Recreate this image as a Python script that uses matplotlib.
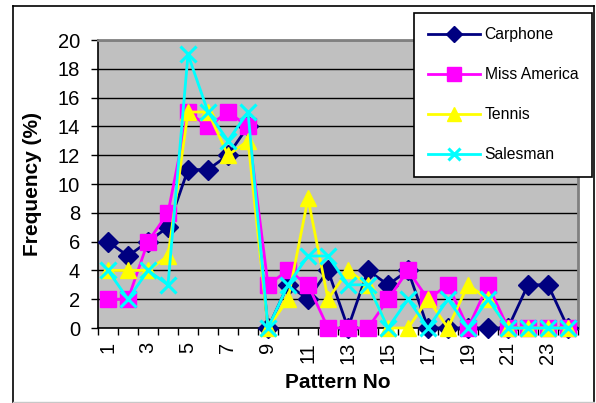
import matplotlib
matplotlib.use("Agg")
import matplotlib.pyplot as plt
from matplotlib.lines import Line2D

plt.rcParams['font.family'] = ['Liberation Sans', 'DejaVu Sans']

patterns = list(range(1, 25))
carphone = [6, 5, 6, 7, 11, 11, 12, 14, 0, 3, 2, 4, 0, 4, 3, 4, 0, 0, 0, 0, 0, 3, 3, 0]
miss_america = [2, 2, 6, 8, 15, 14, 15, 14, 3, 4, 3, 0, 0, 0, 2, 4, 2, 3, 0, 3, 0, 0, 0, 0]
tennis = [4, 4, 4, 5, 15, 15, 12, 13, 0, 2, 9, 2, 4, 3, 0, 0, 2, 0, 3, 2, 0, 0, 0, 0]
salesman = [4, 2, 4, 3, 19, 15, 13, 15, 0, 3, 5, 5, 3, 3, 0, 2, 0, 2, 0, 2, 0, 0, 0, 0]
series_names = ["Carphone", "Miss America", "Tennis", "Salesman"]
y_ticks = list(range(0, 21, 2))
x_labels = [str(i) for i in range(1, 25, 2)]

W, H = 596, 403
fig = plt.figure(figsize=(W / 100, H / 100), dpi=100)
fig.patch.set_facecolor('white')

# outer frame
fig.add_artist(Line2D([13 / W, 13 / W], [0, 1 - 6 / H], color='black', lw=1.2, transform=fig.transFigure))
fig.add_artist(Line2D([594 / W, 594 / W], [0, 1 - 6 / H], color='black', lw=1.2, transform=fig.transFigure))
fig.add_artist(Line2D([13 / W, 594 / W], [1 - 6 / H, 1 - 6 / H], color='black', lw=1.2, transform=fig.transFigure))
fig.add_artist(Line2D([13 / W, 594 / W], [1 / H, 1 / H], color='#c8c8c8', lw=1.0, transform=fig.transFigure))

ax = fig.add_axes([98 / W, 1 - 328 / H, 480 / W, 288 / H])
ax.set_facecolor('#C0C0C0')
ax.set_xlim(0.5, 24.5)
ax.set_ylim(0, 20)

for s in ['top', 'right']:
    ax.spines[s].set_color('#808080')
    ax.spines[s].set_linewidth(2)
for s in ['left', 'bottom']:
    ax.spines[s].set_color('black')
    ax.spines[s].set_linewidth(1.2)

ax.set_yticks(y_ticks)
ax.yaxis.grid(True, color='black', lw=1)
ax.set_axisbelow(True)
ax.tick_params(axis='y', length=5, width=1, pad=8, labelsize=14.5, direction='out')

# category axis: tick marks between categories, labels at odd categories
ax.set_xticks([i + 0.5 for i in range(0, 25)])
ax.set_xticklabels([])
ax.set_xticks(list(range(1, 25, 2)), minor=True)
ax.set_xticklabels(x_labels, minor=True, rotation=90, fontsize=14.5)
ax.tick_params(axis='x', which='major', length=5, width=1, direction='out')
ax.tick_params(axis='x', which='minor', length=0, pad=10)

styles = [
    dict(color='#000080', marker='D', markersize=10),
    dict(color='#FF00FF', marker='s', markersize=11.5),
    dict(color='#FFFF00', marker='^', markersize=12),
    dict(color='#00FFFF', marker='x', markersize=11, mew=2.2),
]
data = [carphone, miss_america, tennis, salesman]
handles = []
for name, vals, st in zip(series_names, data, styles):
    ln, = ax.plot(patterns, vals, lw=2, clip_on=False, label=name, zorder=3, **st)
    handles.append(ln)

ax.set_xlabel("Pattern No", fontsize=15, fontweight='bold', labelpad=6)
ax.set_ylabel("Frequency (%)", fontsize=15, fontweight='bold', labelpad=11)

leg = fig.legend(handles=handles, loc='upper left', bbox_to_anchor=(414 / W, 1 - 13 / H),
                 bbox_transform=fig.transFigure, fontsize=11.3, frameon=True, fancybox=False,
                 edgecolor='black', framealpha=1, borderaxespad=0, borderpad=0.9,
                 labelspacing=1.6, handlelength=3.3, handletextpad=0.3)
leg.get_frame().set_linewidth(1.2)
for h in leg.legend_handles:
    h.set_markersize(h.get_markersize() * 0.85)

fig.savefig("out.png", dpi=100)
